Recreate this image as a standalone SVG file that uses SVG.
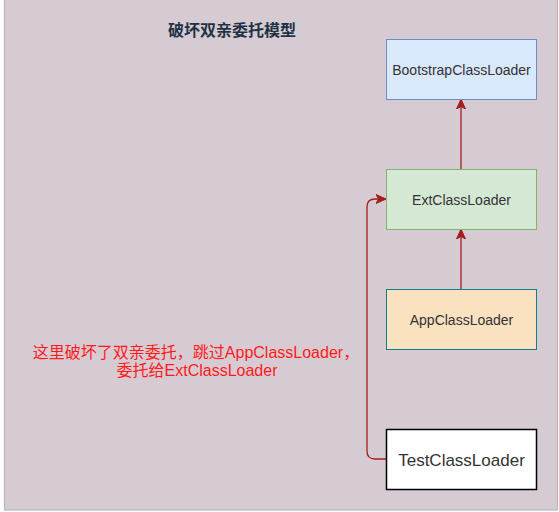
<svg xmlns="http://www.w3.org/2000/svg" width="559" height="512" viewBox="0 0 559 512">
<style>
.lbl{font-family:"Liberation Sans",Arial,"Noto Sans CJK SC",sans-serif;font-size:14px;fill:#333333;text-anchor:middle;dominant-baseline:central}
.conn{fill:none;stroke:#a11f1f;stroke-width:1.3}
.cjk{font-family:"Liberation Sans","Noto Sans CJK SC",sans-serif}
</style>
<defs>
<marker id="ah" viewBox="0 0 10 10" refX="9" refY="5" markerWidth="10" markerHeight="10" markerUnits="userSpaceOnUse" orient="auto">
<path d="M0,0.5 L10,5 L0,9.5 L2.5,5 Z" fill="#a11f1f" stroke="#a11f1f"/>
</marker>
</defs>
<rect x="0" y="0" width="559" height="512" fill="#ffffff"/>
<rect x="4.5" y="-1" width="553" height="511" fill="#d6cbd3" stroke="#b8b8b8" stroke-width="1.2"/>
<text x="232" y="30" class="cjk" font-size="16" font-weight="bold" fill="#1f3344" text-anchor="middle" dominant-baseline="central">破坏双亲委托模型</text>
<g id="connectors">
<path class="conn" d="M461,289 L461,230" marker-end="url(#ah)"/>
<path class="conn" d="M461,169 L461,100" marker-end="url(#ah)"/>
<path class="conn" d="M386,459 L375,459 Q367,459 367,451 L367,207 Q367,199 375,199 L385,199" marker-end="url(#ah)"/>
</g>
<g id="bootstrap">
<rect x="386.5" y="39.5" width="150" height="60" fill="#dae8fc" stroke="#6c8ebf"/>
<text x="461.5" y="70" class="lbl">BootstrapClassLoader</text>
</g>
<g id="ext">
<rect x="386.5" y="169.5" width="150" height="60" fill="#d5e8d4" stroke="#82b366"/>
<text x="461.5" y="200" class="lbl">ExtClassLoader</text>
</g>
<g id="app">
<rect x="386.5" y="289.5" width="150" height="60" fill="#fae1c0" stroke="#0e8088"/>
<text x="461.5" y="320" class="lbl">AppClassLoader</text>
</g>
<g id="test">
<rect x="386.5" y="429.5" width="150" height="60" fill="#ffffff" stroke="#000000" stroke-width="1.5"/>
<text x="461.5" y="460" class="lbl" style="font-size:17px">TestClassLoader</text>
</g>
<g id="note">
<text x="196" y="352" class="cjk" font-size="16" fill="#ff1a1a" text-anchor="middle" dominant-baseline="central">这里破坏了双亲委托，跳过AppClassLoader，</text>
<text x="197" y="370" class="cjk" font-size="16" fill="#ff1a1a" text-anchor="middle" dominant-baseline="central">委托给ExtClassLoader</text>
</g>
</svg>
